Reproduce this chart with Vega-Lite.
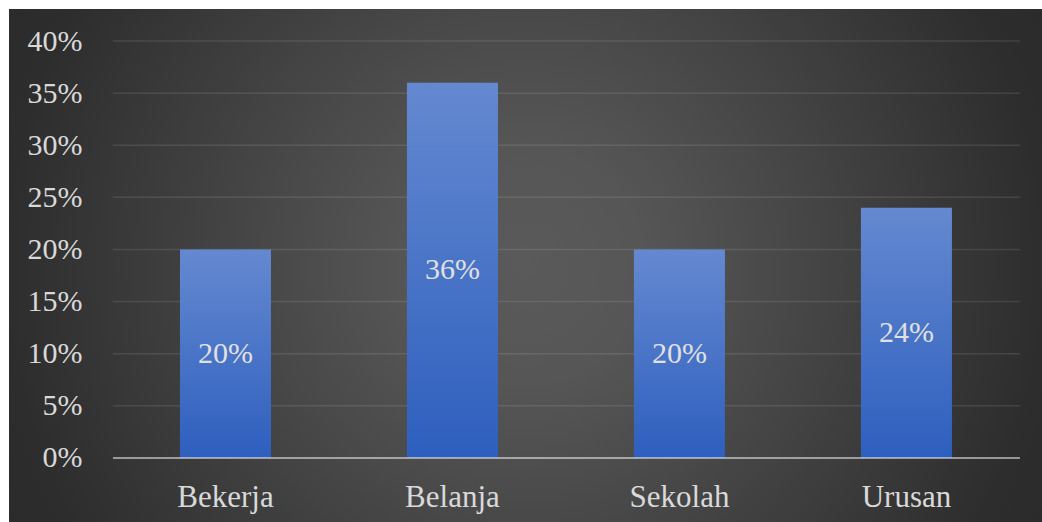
{
  "$schema": "https://vega.github.io/schema/vega-lite/v6.json",
  "width": 1033,
  "height": 513,
  "autosize": {"type": "none"},
  "padding": {"left": 9, "top": 9, "right": 0, "bottom": 0},
  "background": "white",
  "config": {"view": {"stroke": null}, "font": "'Liberation Serif', 'Times New Roman', 'DejaVu Serif', serif"},
  "datasets": {
    "bars": [
      {"k": "Bekerja", "v": 0.20},
      {"k": "Belanja", "v": 0.36},
      {"k": "Sekolah", "v": 0.20},
      {"k": "Urusan", "v": 0.24}
    ],
    "grid": [
      {"t": 0.05}, {"t": 0.10}, {"t": 0.15}, {"t": 0.20},
      {"t": 0.25}, {"t": 0.30}, {"t": 0.35}, {"t": 0.40}
    ],
    "base": [{"t": 0}],
    "bg": [{"bg": 1}]
  },
  "layer": [
    {
      "data": {"name": "bg"},
      "mark": {
        "type": "rect",
        "color": {
          "gradient": "radial",
          "x1": 0.5, "y1": 0.5, "r1": 0,
          "x2": 0.5, "y2": 0.5, "r2": 0.56,
          "stops": [
            {"offset": 0, "color": "#5a5a5a"},
            {"offset": 0.2, "color": "#565656"},
            {"offset": 0.45, "color": "#484848"},
            {"offset": 0.9, "color": "#2d2d2d"},
            {"offset": 1, "color": "#2b2b2b"}
          ]
        }
      },
      "encoding": {}
    },
    {
      "data": {"name": "grid"},
      "mark": {"type": "rule", "color": "white", "opacity": 0.1, "strokeWidth": 1.5},
      "encoding": {
        "y": {"field": "t", "type": "quantitative", "title": null},
        "x": {"datum": "Bekerja", "type": "nominal", "bandPosition": -0.736, "title": null},
        "x2": {"datum": "Urusan", "bandPosition": 1.747}
      }
    },
    {
      "data": {"name": "bars"},
      "mark": {
        "type": "bar",
        "color": {
          "gradient": "linear",
          "x1": 0, "y1": 0, "x2": 0, "y2": 1,
          "stops": [
            {"offset": 0, "color": "#6489d0"},
            {"offset": 1, "color": "#2e5fbe"}
          ]
        }
      },
      "encoding": {
        "x": {
          "field": "k",
          "type": "nominal",
          "title": null,
          "sort": ["Bekerja", "Belanja", "Sekolah", "Urusan"],
          "scale": {"paddingInner": 0.599, "paddingOuter": 0.575, "align": 0.655},
          "axis": {
            "title": null,
            "orient": "bottom",
            "offset": -64,
            "zindex": 2,
            "domain": false,
            "ticks": false,
            "tickSize": 0,
            "labelPadding": 48,
            "labelBaseline": "alphabetic",
            "labelAlign": "center",
            "labelAngle": 0,
            "labelFont": "'Liberation Serif', 'Times New Roman', 'DejaVu Serif', serif",
            "labelFontSize": 31,
            "labelColor": "#d9d9d9"
          }
        },
        "y": {
          "field": "v",
          "type": "quantitative",
          "title": null,
          "scale": {"domain": [-0.0614, 0.4307], "nice": false, "zero": false},
          "axis": {
            "title": null,
            "orient": "left",
            "offset": -73,
            "zindex": 2,
            "values": [0, 0.05, 0.1, 0.15, 0.2, 0.25, 0.3, 0.35, 0.4],
            "format": ".0%",
            "grid": false,
            "domain": false,
            "ticks": false,
            "tickSize": 0,
            "labelPadding": 0,
            "labelAlign": "right",
            "labelBaseline": "middle",
            "labelFont": "'Liberation Serif', 'Times New Roman', 'DejaVu Serif', serif",
            "labelFontSize": 30,
            "labelColor": "#d9d9d9"
          }
        },
        "y2": {"datum": 0}
      }
    },
    {
      "data": {"name": "bars"},
      "transform": [{"calculate": "datum.v / 2", "as": "mid"}],
      "mark": {"type": "text", "font": "'Liberation Serif', 'Times New Roman', 'DejaVu Serif', serif", "fontSize": 30, "color": "#e0e0e0", "baseline": "middle", "align": "center"},
      "encoding": {
        "x": {"field": "k", "type": "nominal", "title": null, "sort": ["Bekerja", "Belanja", "Sekolah", "Urusan"]},
        "y": {"field": "mid", "type": "quantitative", "title": null},
        "text": {"field": "v", "type": "quantitative", "format": ".0%"}
      }
    },
    {
      "data": {"name": "base"},
      "mark": {"type": "rule", "color": "white", "opacity": 0.5, "strokeWidth": 2},
      "encoding": {
        "y": {"field": "t", "type": "quantitative", "title": null},
        "x": {"datum": "Bekerja", "type": "nominal", "bandPosition": -0.736, "title": null},
        "x2": {"datum": "Urusan", "bandPosition": 1.747}
      }
    }
  ]
}
